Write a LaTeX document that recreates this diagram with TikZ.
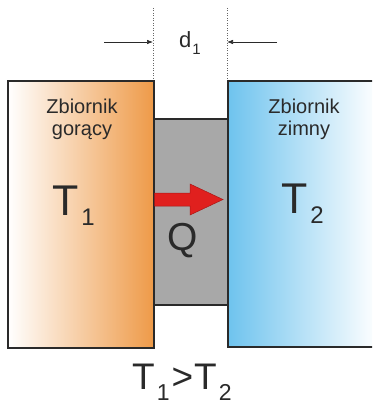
\documentclass[tikz,border=0pt]{standalone}
\usepackage{fontspec}
\setmainfont{Liberation Sans}
\usetikzlibrary{arrows.meta,positioning}
\definecolor{hotorange}{HTML}{EE9A48}
\definecolor{coldblue}{HTML}{6EC3EE}
\definecolor{wallgrey}{HTML}{A8A8A8}
\definecolor{heatred}{HTML}{E0201E}
\definecolor{inkgrey}{HTML}{2A2A2A}
\newcommand{\lowsub}[3]{\raisebox{-#2}{\fontsize{#3}{#3}\selectfont #1}}

\begin{document}
\begin{tikzpicture}[x=1pt,y=-1pt,
  tank/.style={draw=inkgrey,line width=1.6pt,inner sep=0pt,anchor=north west},
  wall/.style={draw=inkgrey,line width=1.6pt,fill=wallgrey,inner sep=0pt,anchor=north west},
  tankname/.style={text=inkgrey,align=center,inner sep=0pt,font=\fontsize{20}{22}\selectfont},
  temp/.style={text=inkgrey,inner sep=0pt,anchor=base west,font=\fontsize{43}{43}\selectfont},
  dimarr/.style={-{Latex[length=6pt,width=4.5pt]},line width=0.6pt,inkgrey},
  guide/.style={dotted,line width=0.5pt,black!60},
  heat/.style={fill=heatred,draw=heatred!75!black,line width=0.5pt},
]
\useasboundingbox (0,0) rectangle (372,403);
\clip (0,0) rectangle (372,403);
% reservoirs and the wall between them
\node[wall,minimum width=74pt,minimum height=186pt] (wall) at (153,118) {};
\node[tank,left color=white,right color=hotorange,
  minimum width=146pt,minimum height=267pt] (hot) at (7,80) {};
\node[tank,left color=coldblue,right color=white,
  minimum width=150pt,minimum height=266pt] (cold) at (227,80) {};
\fill[heat] (154.5,193) -- (190,193) -- (190,184) -- (223,199.5)
  -- (190,215) -- (190,206) -- (154.5,206) -- cycle;
% labels
\node[tankname] (hotname) at (82,119) {Zbiornik\\gorący};
\node[tankname] (coldname) at (304,119) {Zbiornik\\zimny};
\node[temp] (t1) at (52,215) {T\kern3pt\lowsub{1}{10pt}{24}};
\node[temp] (t2) at (281,213) {T\kern3pt\lowsub{2}{10pt}{24}};
\node[temp,font=\fontsize{39}{39}\selectfont] (q) at (167,250) {Q};
\node[temp,font=\fontsize{37}{37}\selectfont] (rel) at (132,389)
  {T\kern2pt\lowsub{1}{11pt}{23}\kern2pt>\kern1pt T\kern2pt\lowsub{2}{11pt}{23}};
% thickness d1
\coordinate (gl) at (153,8);
\coordinate (gr) at (227,8);
\coordinate (al) at (104,42);
\coordinate (ar) at (277,42);
\node[temp,font=\fontsize{22}{22}\selectfont] (d1) at (179,48) {d\kern1pt\lowsub{1}{7pt}{15}};
\draw[guide] (gl) -- (gl |- hot.north);
\draw[guide] (gr) -- (gr |- cold.north);
\draw[dimarr] (al) -- (al -| gl);
\draw[dimarr] (ar) -- (ar -| gr);
\end{tikzpicture}
\end{document}
